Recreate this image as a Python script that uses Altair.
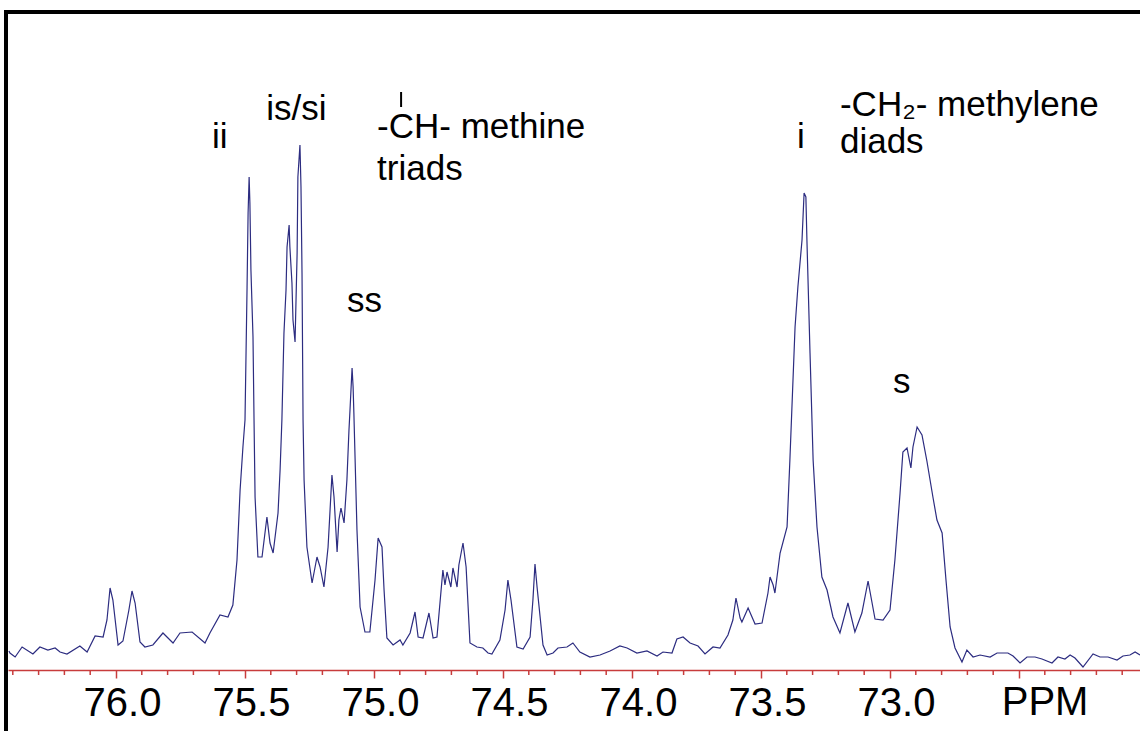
import altair as alt
import pandas as pd

# ---- spectrum trace (chemical shift in ppm, intensity in arbitrary units) ----
ppm = [
    76.415, 76.411, 76.391, 76.364, 76.322, 76.295, 76.264, 76.236, 76.217, 76.190,
    76.140, 76.112, 76.081, 76.050, 76.035, 76.023, 76.012, 75.992, 75.973, 75.950,
    75.938, 75.926, 75.907, 75.888, 75.857, 75.818, 75.779, 75.752, 75.705, 75.655,
    75.636, 75.597, 75.566, 75.547, 75.531, 75.519, 75.508, 75.500, 75.492, 75.488,
    75.484, 75.481, 75.477, 75.469, 75.465, 75.461, 75.450, 75.434, 75.415, 75.403,
    75.391, 75.372, 75.364, 75.357, 75.349, 75.341, 75.337, 75.329, 75.326, 75.318,
    75.314, 75.306, 75.298, 75.295, 75.287, 75.283, 75.279, 75.275, 75.271, 75.260,
    75.240, 75.221, 75.209, 75.194, 75.178, 75.163, 75.155, 75.143, 75.136, 75.128,
    75.116, 75.105, 75.097, 75.093, 75.085, 75.081, 75.078, 75.066, 75.054, 75.035,
    75.016, 74.996, 74.984, 74.969, 74.961, 74.950, 74.926, 74.899, 74.888, 74.860,
    74.841, 74.829, 74.810, 74.787, 74.771, 74.756, 74.733, 74.725, 74.717, 74.702,
    74.694, 74.678, 74.671, 74.655, 74.643, 74.628, 74.601, 74.578, 74.558, 74.543,
    74.512, 74.492, 74.481, 74.469, 74.446, 74.422, 74.395, 74.384, 74.376, 74.368,
    74.345, 74.329, 74.306, 74.287, 74.252, 74.229, 74.202, 74.163, 74.124, 74.085,
    74.047, 74.019, 73.981, 73.942, 73.903, 73.880, 73.845, 73.826, 73.802, 73.775,
    73.744, 73.717, 73.686, 73.659, 73.628, 73.609, 73.597, 73.581, 73.574, 73.550,
    73.523, 73.496, 73.473, 73.465, 73.453, 73.446, 73.426, 73.399, 73.388, 73.368,
    73.357, 73.341, 73.333, 73.326, 73.322, 73.310, 73.298, 73.283, 73.264, 73.244,
    73.221, 73.194, 73.163, 73.136, 73.109, 73.085, 73.058, 73.027, 73.000, 72.981,
    72.961, 72.950, 72.934, 72.919, 72.911, 72.895, 72.876, 72.857, 72.833, 72.818,
    72.798, 72.783, 72.767, 72.748, 72.721, 72.702, 72.678, 72.651, 72.612, 72.585,
    72.543, 72.523, 72.496, 72.469, 72.438, 72.411, 72.372, 72.349, 72.322, 72.302,
    72.283, 72.252, 72.213, 72.186, 72.155, 72.120, 72.097, 72.070, 72.050, 72.031,
]
intensity = [
    19, 17, 13, 23, 16, 23, 20, 22, 18, 16,
    24, 18, 34, 33, 50, 82, 70, 25, 29, 60,
    79, 67, 28, 23, 25, 37, 27, 37, 38, 27,
    37, 55, 53, 65, 110, 180, 223, 250, 383, 457,
    493, 467, 400, 333, 250, 173, 113, 113, 153, 127,
    117, 157, 200, 250, 337, 380, 423, 445, 423, 387,
    350, 328, 417, 493, 525, 483, 397, 250, 190, 123,
    87, 113, 103, 83, 123, 195, 173, 118, 150, 162,
    147, 190, 240, 260, 302, 283, 257, 140, 63, 38,
    38, 90, 132, 123, 80, 32, 25, 30, 25, 37,
    58, 33, 32, 57, 32, 33, 100, 85, 98, 83,
    102, 83, 105, 127, 103, 27, 23, 22, 17, 16,
    30, 60, 90, 70, 23, 21, 33, 70, 106, 83,
    25, 15, 17, 22, 23, 27, 18, 13, 15, 19,
    24, 22, 17, 19, 14, 18, 17, 31, 33, 27,
    24, 16, 23, 22, 35, 50, 72, 52, 48, 62,
    46, 47, 77, 93, 85, 77, 117, 143, 210, 343,
    383, 430, 477, 473, 430, 317, 210, 143, 93, 80,
    53, 37, 67, 38, 57, 89, 51, 50, 60, 110,
    177, 218, 222, 202, 223, 243, 235, 209, 172, 150,
    137, 90, 43, 22, 8, 20, 13, 15, 13, 17,
    17, 14, 7, 13, 13, 11, 7, 13, 11, 15,
    12, 3, 16, 13, 13, 10, 14, 15, 18, 15,
]

# ---- axis ticks ----
major_ticks = [76.0, 75.5, 75.0, 74.5, 74.0, 73.5, 73.0, 72.5]
minor_ticks = [76.4, 76.3, 76.2, 76.1, 75.9, 75.8, 75.7, 75.6, 75.4, 75.3, 75.2, 75.1,
               74.9, 74.8, 74.7, 74.6, 74.4, 74.3, 74.2, 74.1, 73.9, 73.8, 73.7, 73.6,
               73.4, 73.3, 73.2, 73.1, 72.9, 72.8, 72.7, 72.6, 72.4, 72.3, 72.2, 72.1]
unit_label = "PPM"
unit_ppm = 72.399
unit_int = -45

# ---- annotations (left edge ppm, baseline intensity) ----
ann_text = ["ii", "is/si", "-CH- methine", "triads", "ss", "i",
            "-CH\u2082- methylene", "diads", "s"]
ann_ppm = [75.628, 75.418, 74.988, 74.988, 75.105, 73.360,
           73.194, 73.194, 72.988]
ann_int = [522, 550, 532, 490, 358, 522,
           554, 517, 277]
ann_size = [35, 35, 35, 35, 35, 35, 35, 35, 35]

W, H = 1132, 656
X_DOMAIN = [76.4186, 72.031]
Y_DOMAIN = [0, 656]
RED = "#c83c3c"
LABEL_SIZE = 40

spec = pd.DataFrame({"ppm": ppm, "intensity": intensity, "idx": range(len(ppm))})
ann = pd.DataFrame({"ppm": ann_ppm, "intensity": ann_int, "label": ann_text, "size": ann_size})
minor = pd.DataFrame({"ppm": minor_ticks})

xs = alt.Scale(domain=X_DOMAIN, nice=False, zero=False)
ys = alt.Scale(domain=Y_DOMAIN, nice=False, zero=False)

x_axis = alt.Axis(
    values=major_ticks,
    labelExpr="datum.value == 72.5 ? '' : format(datum.value, '.1f')",
    title=None, grid=False,
    domainColor=RED, domainWidth=1.5,
    tickColor=RED, tickWidth=1.5, tickSize=8,
    labelFont="Liberation Sans", labelFontSize=LABEL_SIZE, labelColor="black",
    labelPadding=5, labelOffset=6, labelFlush=False, labelOverlap=False,
)

line = alt.Chart(spec).mark_line(color="#2c2c80", strokeWidth=1.2).encode(
    x=alt.X("ppm:Q", scale=xs, axis=x_axis),
    y=alt.Y("intensity:Q", scale=ys, axis=None),
    order="idx:Q",
)

minor_layer = alt.Chart(minor).mark_rule(color=RED, strokeWidth=1.5).encode(
    x=alt.X("ppm:Q", scale=xs),
    y=alt.value(H),
    y2=alt.value(H + 5),
)

texts = alt.Chart(ann).mark_text(
    align="left", baseline="alphabetic", font="Liberation Sans", color="black"
).encode(
    x=alt.X("ppm:Q", scale=xs),
    y=alt.Y("intensity:Q", scale=ys),
    text="label:N",
    size=alt.Size("size:Q", scale=None, legend=None),
)

unit = alt.Chart(pd.DataFrame({"ppm": [unit_ppm], "intensity": [unit_int], "label": [unit_label]})).mark_text(
    align="center", baseline="alphabetic", font="Liberation Sans", color="black", fontSize=LABEL_SIZE
).encode(
    x=alt.X("ppm:Q", scale=xs),
    y=alt.Y("intensity:Q", scale=ys),
    text="label:N",
)

# small bond stroke above the C of -CH-
bond = alt.Chart(pd.DataFrame({"ppm": [74.895], "lo": [563], "hi": [578]})).mark_rule(
    color="black", strokeWidth=2
).encode(
    x=alt.X("ppm:Q", scale=xs),
    y=alt.Y("lo:Q", scale=ys),
    y2="hi:Q",
)

one = alt.Data(values=[{}])
left_border = alt.Chart(one).mark_rule(color="black", strokeWidth=4).encode(
    x=alt.value(-2), y=alt.value(-4), y2=alt.value(H + 61)
)
top_border = alt.Chart(one).mark_rule(color="black", strokeWidth=4).encode(
    x=alt.value(-4), x2=alt.value(W), y=alt.value(-2)
)

chart = alt.layer(
    minor_layer, line, texts, unit, bond, left_border, top_border
).properties(
    width=W, height=H,
    padding={"left": 8, "top": 14, "right": 0, "bottom": 61},
    autosize=alt.AutoSizeParams(type="none"),
    background="white",
).configure_view(stroke=None)

chart.save("out.html", embed_options={"renderer": "svg", "actions": False})
